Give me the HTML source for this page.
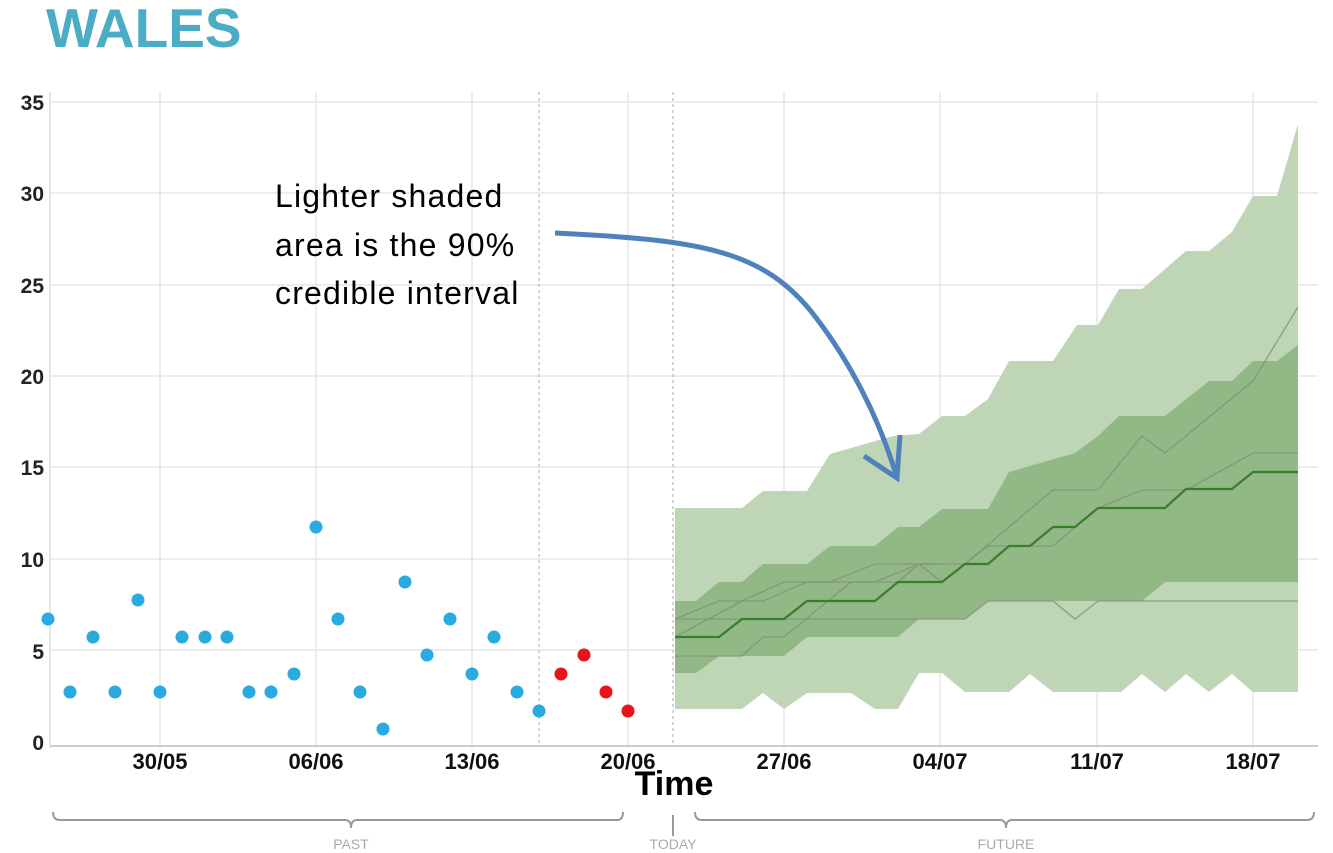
<!DOCTYPE html>
<html><head><meta charset="utf-8"><style>
body{margin:0;background:#fff;width:1333px;height:853px;overflow:hidden}
svg{display:block;font-family:"Liberation Sans",sans-serif}
</style></head><body>
<svg width="1333" height="853" viewBox="0 0 1333 853">
<text x="46" y="47" font-size="55" font-weight="bold" fill="#4bacc6">WALES</text>
<g stroke="#e6e6e6" stroke-width="1.5">
<line x1="50" x2="1318" y1="102" y2="102"/><line x1="50" x2="1318" y1="193" y2="193"/><line x1="50" x2="1318" y1="285" y2="285"/><line x1="50" x2="1318" y1="376" y2="376"/><line x1="50" x2="1318" y1="467" y2="467"/><line x1="50" x2="1318" y1="559" y2="559"/><line x1="50" x2="1318" y1="650" y2="650"/>
<line x1="160" x2="160" y1="92" y2="748"/><line x1="316" x2="316" y1="92" y2="748"/><line x1="472" x2="472" y1="92" y2="748"/><line x1="628" x2="628" y1="92" y2="748"/><line x1="784" x2="784" y1="92" y2="748"/><line x1="940" x2="940" y1="92" y2="748"/><line x1="1097" x2="1097" y1="92" y2="748"/><line x1="1253" x2="1253" y1="92" y2="748"/>
</g>
<line x1="50" x2="1318" y1="746" y2="746" stroke="#ccc" stroke-width="2"/>
<line x1="50" x2="50" y1="92" y2="748" stroke="#ddd" stroke-width="1.5"/>
<line x1="539" x2="539" y1="92" y2="746" stroke="#aaa" stroke-dasharray="3,3"/>
<line x1="673" x2="673" y1="92" y2="746" stroke="#aaa" stroke-dasharray="3,3"/>
<polygon fill="#bed5b6" points="675,508 742,508 763,491 807,491 830,454 893,436 919,434 942,416 965,416 988,399 1009,361 1053,361 1077,325 1098,325 1119,289 1142,289 1186,251 1209,251 1232,232 1253,196 1277,196 1298,124 1298,692 1253,692 1232,674 1209,692 1186,674 1165,692 1142,674 1121,692 1053,692 1030,674 1009,692 965,692 942,673 919,673 898,709 875,709 851,693 807,693 784,709 763,693 742,709 675,709"/>
<polygon fill="#92b886" points="675,601 696,601 719,582 742,582 763,564 807,564 830,546 875,546 898,527 919,527 942,509 988,509 1009,472 1075,453 1098,436 1119,416 1165,416 1209,381 1232,381 1253,361 1277,361 1298,345 1298,582 1165,582 1142,601 988,601 965,619 919,619 898,637 807,637 784,656 719,656 696,673 675,673"/>
<g fill="none" stroke="#7f8f7a" stroke-width="1.3" opacity="0.8">
<polyline points="675,637 742,601 784,582 830,582 875,564 919,564 942,582 965,564 1009,527 1053,490 1098,490 1142,436 1165,453 1253,381 1298,307"/>
<polyline points="675,619 965,619 988,601 1053,601 1075,619 1098,601 1298,601"/>
<polyline points="675,656 742,656 763,637 784,637 851,582 898,582 919,564 965,564 988,546 1053,546 1098,508 1142,490 1186,490 1253,453 1298,453"/>
<polyline points="675,619 719,601 763,601 807,582 875,582 919,564 942,564"/>
</g>
<polyline fill="none" stroke="#3a7d2a" stroke-width="2.2" points="675,637 719,637 742,619 784,619 807,601 875,601 898,582 942,582 965,564 988,564 1009,546 1030,546 1053,527 1075,527 1098,508 1165,508 1186,489 1232,489 1253,472 1298,472"/>
<g fill="#29abe2">
<circle cx="48" cy="619" r="6.5"/><circle cx="70" cy="692" r="6.5"/><circle cx="93" cy="637" r="6.5"/><circle cx="115" cy="692" r="6.5"/><circle cx="138" cy="600" r="6.5"/><circle cx="160" cy="692" r="6.5"/><circle cx="182" cy="637" r="6.5"/><circle cx="205" cy="637" r="6.5"/><circle cx="227" cy="637" r="6.5"/><circle cx="249" cy="692" r="6.5"/><circle cx="271" cy="692" r="6.5"/><circle cx="294" cy="674" r="6.5"/><circle cx="316" cy="527" r="6.5"/><circle cx="338" cy="619" r="6.5"/><circle cx="360" cy="692" r="6.5"/><circle cx="383" cy="729" r="6.5"/><circle cx="405" cy="582" r="6.5"/><circle cx="427" cy="655" r="6.5"/><circle cx="450" cy="619" r="6.5"/><circle cx="472" cy="674" r="6.5"/><circle cx="494" cy="637" r="6.5"/><circle cx="517" cy="692" r="6.5"/><circle cx="539" cy="711" r="6.5"/>
</g>
<g fill="#e8141b"><circle cx="561" cy="674" r="6.5"/><circle cx="584" cy="655" r="6.5"/><circle cx="606" cy="692" r="6.5"/><circle cx="628" cy="711" r="6.5"/></g>
<g font-size="21" font-weight="bold" fill="#222" text-anchor="end">
<text x="44" y="110">35</text><text x="44" y="201">30</text><text x="44" y="293">25</text><text x="44" y="384">20</text><text x="44" y="475">15</text><text x="44" y="567">10</text><text x="44" y="659">5</text><text x="44" y="750">0</text>
</g>
<g font-size="22" font-weight="bold" fill="#111" text-anchor="middle">
<text x="160" y="769">30/05</text><text x="316" y="769">06/06</text><text x="472" y="769">13/06</text><text x="628" y="769">20/06</text><text x="784" y="769">27/06</text><text x="940" y="769">04/07</text><text x="1097" y="769">11/07</text><text x="1253" y="769">18/07</text>
</g>
<text x="674" y="795" font-size="34" font-weight="bold" text-anchor="middle" fill="#000">Time</text>
<g font-size="32" fill="#000" letter-spacing="1.2"><text x="275" y="207">Lighter shaded</text><text x="275" y="256">area is the 90%</text><text x="275" y="304">credible interval</text></g>
<path d="M555,233 C700,240 760,250 810,310 C850,360 880,420 897,478" fill="none" stroke="#4f81bd" stroke-width="5"/>
<path d="M864,456 L897,478 L900,435" fill="none" stroke="#4f81bd" stroke-width="5"/>
<g fill="none" stroke="#999" stroke-width="2">
<path d="M53,812 Q53,820 60,820 L345,820 Q351,820 351,828 Q351,820 357,820 L617,820 Q623,820 623,812"/>
<line x1="673" y1="815" x2="673" y2="836"/>
<path d="M695,812 Q695,820 702,820 L1000,820 Q1006,820 1006,828 Q1006,820 1012,820 L1307,820 Q1314,820 1314,812"/>
</g>
<g font-size="14" fill="#aaa" text-anchor="middle"><text x="351" y="849">PAST</text><text x="673" y="849">TODAY</text><text x="1006" y="849">FUTURE</text></g>
</svg>
</body></html>
